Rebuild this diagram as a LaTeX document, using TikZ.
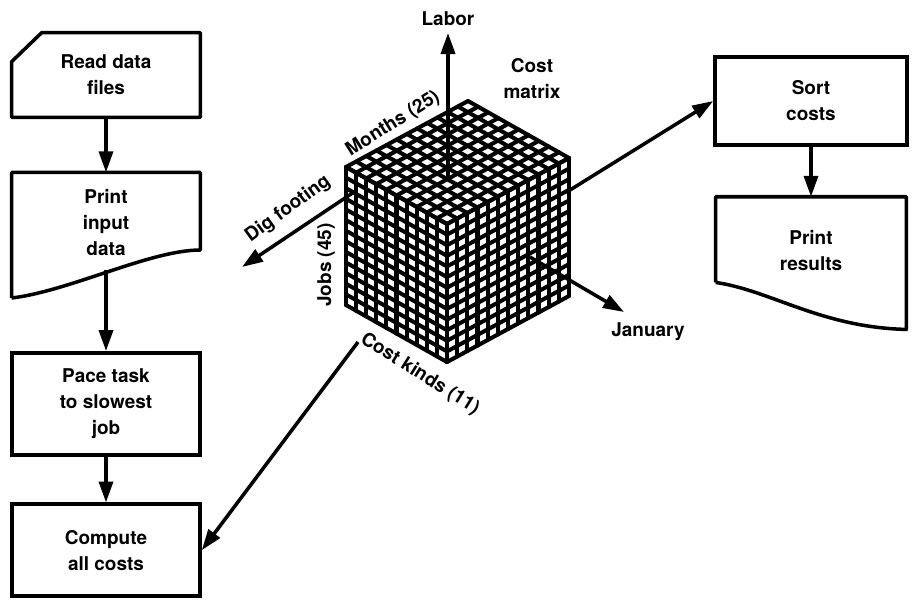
\documentclass[tikz,border=0pt]{standalone}
\usepackage{fontspec}
\setmainfont{TeX Gyre Heros}
\usetikzlibrary{positioning,arrows.meta,calc}
\tikzset{
  fig/.style={font=\fontsize{10.8}{14.8}\selectfont\bfseries},
  box/.style={draw,line width=2pt,minimum width=3.76cm,align=center,inner sep=2pt},
  txt/.style={minimum width=3.76cm,align=center,inner sep=2pt},
  outl/.style={line width=2pt,line join=round},
  ln/.style={-{Triangle[length=4.2mm,width=2.8mm]},line width=2pt},
  grd/.style={line width=2.3pt,line cap=round},
  lbl/.style={inner sep=1pt,align=center},
}

\begin{document}
\begin{tikzpicture}[fig,x=0.02cm,y=-0.02cm]
\useasboundingbox (0,0) rectangle (913,600);

\node[txt,minimum height=1.68cm] (rd) at (106,75) {Read data\\files};
\draw[outl] ($(rd.north west)+(30,0)$) -- (rd.north east) -- (rd.south east)
   -- (rd.south west) -- ($(rd.north west)+(0,29)$) -- cycle;
\node[txt,minimum height=2cm,below=1.1cm of rd] (pin) {Print\\input\\data};
\draw[outl] ($(pin.south west)+(0,25)$) -- (pin.north west) -- (pin.north east)
   -- ($(pin.south east)+(0,-23)$) .. controls +(-50,0) and +(58,-7) .. ($(pin.south west)+(0,25)$);
\node[box,minimum height=2.04cm,below=1.56cm of pin] (pace) {Pace task\\to slowest\\job};
\node[box,minimum height=1.84cm,below=0.92cm of pace] (cmp) {Compute\\all costs};

\draw[ln] ($(rd.south)$) -- (pin);
\draw[ln] ($(pin.south)+(0,-3)$) -- (pace);
\draw[ln] (pace) -- (cmp);

\node[box,minimum width=3.84cm,minimum height=1.76cm] (srt) at (811,101) {Sort\\costs};
\node[txt,minimum width=3.8cm,minimum height=2.12cm,below=1cm of srt] (prs) {Print\\results};
\draw[outl] ($(prs.south west)+(0,-21)$) -- (prs.north west) -- (prs.north east)
   -- ($(prs.south east)+(0,26)$) .. controls +(-85,-2) and +(55,8) .. ($(prs.south west)+(0,-21)$);
\draw[ln] (srt) -- (prs);

\coordinate (F) at (447,224);
\foreach \i in {0,...,10} {
  \draw[grd] ($(F)+({-10.1*\i},{-5.7*\i})$) -- ++(122,-66);
  \draw[grd] ($(F)+({-10.1*\i},{-5.7*\i})$) -- ++(0,138);
}
\foreach \j in {0,...,12} {
  \draw[grd] ($(F)+({122/12*\j},{-66/12*\j})$) -- ++(-101,-57);
  \draw[grd] ($(F)+({122/12*\j},{-66/12*\j})$) -- ++(0,138);
}
\foreach \k in {0,...,13} {
  \draw[grd] ($(F)+(0,{138/13*\k})$) -- ++(-101,-57);
  \draw[grd] ($(F)+(0,{138/13*\k})$) -- ++(122,-66);
}

\coordinate (lab0) at (448,180);
\coordinate (lab1) at (448,33);
\coordinate (dig0) at (357,190);
\coordinate (dig1) at (242,267);
\coordinate (jan0) at (530,257);
\coordinate (jan1) at (624,312);
\coordinate (srt0) at (570,190);
\coordinate (cmp0) at (358,342);
\draw[ln] (lab0) -- (lab1);
\draw[ln] (dig0) -- (dig1);
\draw[ln] (jan0) -- (jan1);
\draw[ln] (srt0) -- (srt.west);
\draw[ln] (cmp0) -- (cmp.east);

\node[lbl] (labor) at (448,19) {Labor};
\node[lbl] (cmat) at (532,79) {Cost\\matrix};
\node[lbl] (jan) at (648,332) {January};
\node[lbl,rotate=32] (months) at (393,124) {Months (25)};
\node[lbl,rotate=36] (dig) at (288,209) {Dig footing};
\node[lbl,rotate=90] (jobs) at (326,265) {Jobs (45)};
\node[lbl,rotate=-32] (kinds) at (420,374) {Cost kinds (11)};
\end{tikzpicture}
\end{document}
